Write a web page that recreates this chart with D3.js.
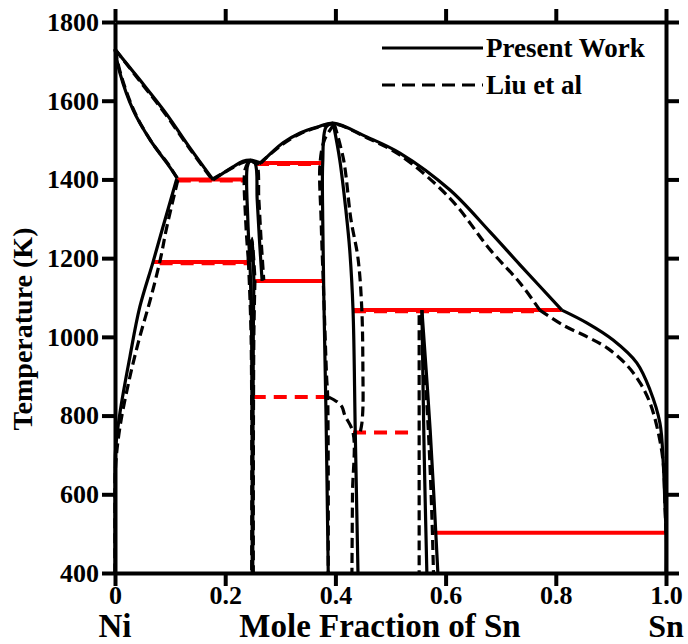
<!DOCTYPE html>
<html>
<head>
<meta charset="utf-8">
<script src="https://cdn.jsdelivr.net/npm/d3@7"></script>
<style>
  body { margin: 0; background: #fff; }
  text { font-family: "Liberation Serif", "Times New Roman", serif; font-weight: bold; }
</style>
</head>
<body>
<div id="chart-area"></div>
<script>
// ---- axis ticks ----
var xTicks = [0, 0.2, 0.4, 0.6, 0.8, 1.0];
var xTickLabels = ["0", "0.2", "0.4", "0.6", "0.8", "1.0"];
var yTicks = [400, 600, 800, 1000, 1200, 1400, 1600, 1800];

// ---- Present Work (solid) : [mole fraction Sn, T (K)] ----
var pwLiqNi    = [[0,1731],[0.045,1653],[0.091,1571],[0.136,1480],[0.178,1399]];
var pwSolNi    = [[0,1731],[0.009,1670],[0.033,1576],[0.064,1500],[0.094,1442],[0.113,1404]];
var pwSolvNi   = [[0.112,1401],[0.087,1279],[0.069,1190],[0.045,1076],[0.027,949],[0.009,807],[0.001,713],[0,600],[0,400]];
var pwLiqMid   = [[0.178,1399],[0.214,1432],[0.232,1446],[0.245,1449],[0.258,1445],[0.265,1442]];
var pwDome     = [[0.265,1442],[0.305,1493],[0.336,1518],[0.367,1533],[0.396,1543],[0.457,1508],[0.517,1467],[0.608,1373],[0.681,1266],[0.735,1183],[0.811,1068]];
var pwLiqSn    = [[0.811,1068],[0.857,1035],[0.904,992],[0.947,934],[0.971,865],[0.989,781],[0.995,680],[0.998,578],[1.0,502],[1.0,400]];
var pwNi3SnHtL = [[0.245,1449],[0.240,1432],[0.241,1300],[0.245,1190]];
var pwNi3SnHtR = [[0.245,1449],[0.254,1442],[0.258,1350],[0.262,1250],[0.267,1142]];
var pwNi3SnLt  = [[0.245,1190],[0.249,1250],[0.252,1142]];
var pwNi3SnLtL = [[0.245,1190],[0.248,1000],[0.249,400]];
var pwNi3SnLtR = [[0.252,1142],[0.251,1000],[0.250,400]];
var pwNi3Sn2L  = [[0.396,1543],[0.383,1533],[0.377,1442],[0.377,1300],[0.379,1100],[0.383,800],[0.387,400]];
var pwNi3Sn2R  = [[0.396,1543],[0.408,1449],[0.419,1322],[0.426,1221],[0.432,1068],[0.436,763],[0.441,400]];
var pwNi3Sn4L  = [[0.557,1068],[0.561,713],[0.566,400]];
var pwNi3Sn4R  = [[0.557,1068],[0.572,763],[0.586,400]];

// ---- Liu et al (dashed) ----
var liuLiqNi    = [[0,1731],[0.045,1650],[0.091,1567],[0.136,1477],[0.176,1400]];
var liuSolNi    = [[0,1731],[0.011,1665],[0.036,1570],[0.067,1494],[0.097,1438],[0.114,1400]];
var liuSolvNi   = [[0.114,1398],[0.094,1279],[0.082,1195],[0.064,1094],[0.045,1000],[0.027,898],[0.009,771],[0.001,669],[0,560],[0,400]];
var liuLiqMid   = [[0.176,1400],[0.214,1430],[0.232,1443],[0.243,1446],[0.256,1442],[0.262,1440]];
var liuDome     = [[0.262,1440],[0.305,1490],[0.336,1516],[0.367,1532],[0.398,1541],[0.457,1506],[0.517,1462],[0.608,1352],[0.681,1221],[0.735,1137],[0.771,1068]];
var liuLiqSn    = [[0.771,1068],[0.813,1030],[0.857,1000],[0.893,972],[0.929,928],[0.953,883],[0.971,832],[0.985,763],[0.995,680],[0.998,578],[1.0,502]];
var liuNi3SnHtL = [[0.243,1446],[0.236,1425],[0.237,1300],[0.242,1195]];
var liuNi3SnHtR = [[0.243,1446],[0.256,1442],[0.261,1350],[0.265,1250],[0.270,1144]];
var liuNi3SnLt  = [[0.242,1195],[0.248,1245],[0.254,1144]];
var liuNi3SnLtL = [[0.242,1195],[0.247,1000],[0.248,400]];
var liuNi3SnLtR = [[0.254,1144],[0.252,1000],[0.251,400]];
var liuNi3Sn2L  = [[0.398,1541],[0.380,1500],[0.372,1439],[0.374,1300],[0.379,1100],[0.384,900],[0.386,847],[0.387,400]];
var liuNi3Sn2R  = [[0.398,1541],[0.415,1449],[0.428,1300],[0.441,1200],[0.448,1068],[0.450,900],[0.450,822],[0.448,780],[0.445,757]];
var liuNi3Sn2Lt = [[0.388,847],[0.403,835],[0.412,822],[0.417,801],[0.432,757],[0.431,600],[0.430,400]];
var liuNi3Sn4L  = [[0.552,1055],[0.552,700],[0.552,400]];
var liuNi3Sn4R  = [[0.555,1055],[0.568,780],[0.575,550],[0.578,400]];

// ---- invariant (red) lines: [x start, x end, T] ----
var redSolid  = [[0.113,0.240,1400],[0.069,0.245,1190],[0.254,0.377,1442],[0.252,0.377,1142],[0.432,0.811,1068],[0.575,1.0,502]];
var redDashed = [[0.114,0.240,1397],[0.081,0.245,1187],[0.256,0.372,1439],[0.250,0.390,847],[0.432,0.544,757],[0.432,0.771,1065]];

var presentCurves = [pwLiqNi, pwSolNi, pwSolvNi, pwLiqMid, pwDome, pwLiqSn, pwNi3SnHtL, pwNi3SnHtR,
                     pwNi3SnLt, pwNi3SnLtL, pwNi3SnLtR, pwNi3Sn2L, pwNi3Sn2R, pwNi3Sn4L, pwNi3Sn4R];
var liuCurves = [liuLiqNi, liuSolNi, liuSolvNi, liuLiqMid, liuDome, liuLiqSn, liuNi3SnHtL, liuNi3SnHtR,
                 liuNi3SnLt, liuNi3SnLtL, liuNi3SnLtR, liuNi3Sn2L, liuNi3Sn2R, liuNi3Sn2Lt, liuNi3Sn4L, liuNi3Sn4R];

var margin = { left:115, right:22, top:22, bottom:71 };
var width = 688 - margin.left - margin.right,
    height = 644 - margin.top - margin.bottom;

var svg = d3.select("#chart-area")
    .append("svg")
    .attr("width", 688)
    .attr("height", 644);

var g = svg.append("g")
    .attr("transform", "translate(" + margin.left + "," + margin.top + ")");

var xScale = d3.scaleLinear().domain([0, 1]).range([0, width]);
var yScale = d3.scaleLinear().domain([400, 1800]).range([height, 0]);

var line = d3.line()
    .x(d => xScale(d[0]))
    .y(d => yScale(d[1]))
    .curve(d3.curveCatmullRom.alpha(0.5));

// red tie lines
g.selectAll(".red-solid").data(redSolid).enter().append("line")
    .attr("class", "red-solid")
    .attr("x1", d => xScale(d[0])).attr("x2", d => xScale(d[1]))
    .attr("y1", d => yScale(d[2])).attr("y2", d => yScale(d[2]))
    .attr("stroke", "#ff0000").attr("stroke-width", 4);

g.selectAll(".red-dash").data(redDashed).enter().append("line")
    .attr("class", "red-dash")
    .attr("x1", d => xScale(d[0])).attr("x2", d => xScale(d[1]))
    .attr("y1", d => yScale(d[2])).attr("y2", d => yScale(d[2]))
    .attr("stroke", "#ff0000").attr("stroke-width", 4)
    .attr("stroke-dasharray", "13,8");

// phase boundaries
g.selectAll(".pw").data(presentCurves).enter().append("path")
    .attr("class", "pw")
    .attr("d", line)
    .attr("fill", "none").attr("stroke", "#000").attr("stroke-width", 3.2)
    .attr("stroke-linejoin", "round");

g.selectAll(".liu").data(liuCurves).enter().append("path")
    .attr("class", "liu")
    .attr("d", line)
    .attr("fill", "none").attr("stroke", "#000").attr("stroke-width", 3.2)
    .attr("stroke-dasharray", "10,5");

// axes
var bottomAxis = d3.axisBottom(xScale).tickValues(xTicks).tickSize(13).tickSizeOuter(0)
    .tickPadding(0).tickFormat((d, i) => xTickLabels[i]);
var topAxis = d3.axisTop(xScale).tickValues(xTicks).tickSize(13).tickSizeOuter(0).tickFormat("");
var leftAxis = d3.axisLeft(yScale).tickValues(yTicks).tickSize(13).tickSizeOuter(0)
    .tickPadding(3).tickFormat(d3.format("d"));
var rightAxis = d3.axisRight(yScale).tickValues(yTicks).tickSize(13).tickSizeOuter(0).tickFormat("");

g.append("g").attr("class", "x axis").attr("transform", "translate(0," + height + ")").call(bottomAxis);
g.append("g").attr("class", "x axis").call(topAxis);
g.append("g").attr("class", "y axis").call(leftAxis);
g.append("g").attr("class", "y axis").attr("transform", "translate(" + width + ",0)").call(rightAxis);

g.selectAll(".axis path, .axis line").attr("stroke", "#000").attr("stroke-width", 4);
g.selectAll(".axis text")
    .attr("font-family", "Liberation Serif, serif")
    .attr("font-weight", "bold")
    .attr("font-size", "26px")
    .attr("fill", "#000");

// axis titles
g.append("text")
    .attr("x", 0).attr("y", height + 64)
    .attr("text-anchor", "middle").attr("font-size", "33px")
    .text("Ni");
g.append("text")
    .attr("x", width).attr("y", height + 64)
    .attr("text-anchor", "middle").attr("font-size", "32px")
    .text("Sn");
g.append("text")
    .attr("x", 265).attr("y", height + 64)
    .attr("text-anchor", "middle").attr("font-size", "33px")
    .text("Mole Fraction of Sn");
g.append("text")
    .attr("transform", "rotate(-90)")
    .attr("x", -307).attr("y", -83)
    .attr("text-anchor", "middle").attr("font-size", "28px")
    .text("Temperature (K)");

// legend
var legend = g.append("g").attr("transform", "translate(267,26)");
legend.append("line").attr("x1", 0).attr("x2", 101).attr("y1", 0).attr("y2", 0)
    .attr("stroke", "#000").attr("stroke-width", 3.2);
legend.append("text").attr("x", 104).attr("y", 9).attr("font-size", "27px").text("Present Work");
legend.append("line").attr("x1", 0).attr("x2", 101).attr("y1", 37).attr("y2", 37)
    .attr("stroke", "#000").attr("stroke-width", 3.2).attr("stroke-dasharray", "13,7");
legend.append("text").attr("x", 104).attr("y", 46).attr("font-size", "27px").text("Liu et al");
</script>
</body>
</html>
